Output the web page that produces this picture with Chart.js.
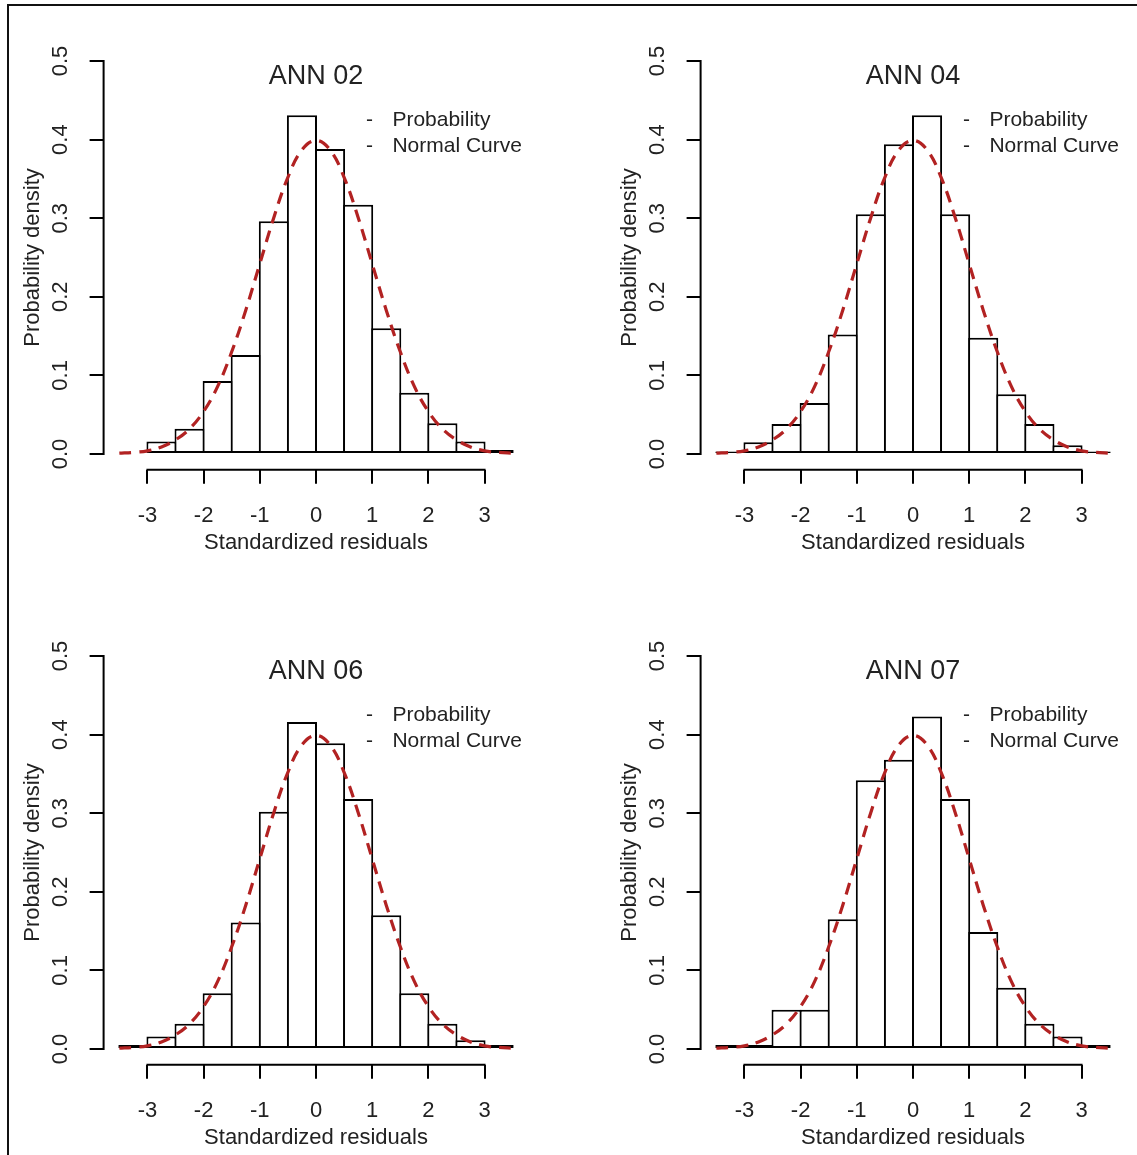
<!DOCTYPE html>
<html lang="en">
<head>
    <meta charset="UTF-8">
    <title>Standardized residuals - ANN histograms</title>
    <script src="https://cdn.jsdelivr.net/npm/chart.js"></script>
    <style>
        body {
            margin: 0;
            background: #fff;
        }
        .figure {
            position: relative;
            width: 1137px;
            height: 1155px;
            overflow: hidden;
        }
        .frame {
            position: absolute;
            left: 7px;
            top: 4px;
            width: 1140px;
            height: 1160px;
            border-left: 2px solid #111;
            border-top: 2px solid #111;
        }
        .panel {
            position: absolute;
            width: 540px;
            height: 560px;
        }
    </style>
</head>
<body>
    <div class="figure">
        <div class="frame"></div>
        <canvas id="ann02" class="panel" width="540" height="560" style="left:0;top:0"></canvas>
        <canvas id="ann04" class="panel" width="540" height="560" style="left:597px;top:0"></canvas>
        <canvas id="ann06" class="panel" width="540" height="560" style="left:0;top:595px"></canvas>
        <canvas id="ann07" class="panel" width="540" height="560" style="left:597px;top:595px"></canvas>
    </div>

    <script>
        // histogram bins (midpoints, width 0.5) and densities
        const binMids = [-3.25, -2.75, -2.25, -1.75, -1.25, -0.75, -0.25, 0.25, 0.75, 1.25, 1.75, 2.25, 2.75, 3.25];
        const ann02 = [0, 0.016, 0.032, 0.093, 0.126, 0.296, 0.431, 0.388, 0.317, 0.160, 0.078, 0.039, 0.016, 0.005];
        const ann04 = [0.003, 0.015, 0.038, 0.065, 0.152, 0.305, 0.394, 0.431, 0.305, 0.148, 0.076, 0.038, 0.011, 0.003];
        const ann06 = [0.005, 0.016, 0.032, 0.071, 0.161, 0.302, 0.416, 0.389, 0.318, 0.170, 0.071, 0.032, 0.011, 0.005];
        const ann07 = [0.005, 0.005, 0.050, 0.050, 0.165, 0.342, 0.368, 0.423, 0.318, 0.149, 0.078, 0.032, 0.016, 0.005];

        // normal curve as drawn (same in all four panels)
        const curveX = [-3.5, -3.25, -3, -2.75, -2.5, -2.25, -2, -1.75, -1.5, -1.25, -1, -0.75, -0.5, -0.25, 0,
                        0.25, 0.5, 0.75, 1, 1.25, 1.5, 1.75, 2, 2.25, 2.5, 2.75, 3, 3.25, 3.5];
        const curveY = [0.001, 0.002, 0.004, 0.009, 0.018, 0.032, 0.054, 0.086, 0.130, 0.183, 0.242, 0.301, 0.352, 0.387, 0.399,
                        0.387, 0.352, 0.301, 0.242, 0.183, 0.130, 0.086, 0.054, 0.032, 0.018, 0.009, 0.004, 0.002, 0.001];

        const xTicks = [-3, -2, -1, 0, 1, 2, 3];
        const yTicks = [0, 0.1, 0.2, 0.3, 0.4, 0.5];
        const panelIds = ['ann02', 'ann04', 'ann06', 'ann07'];
        const panelTitles = ['ANN 02', 'ANN 04', 'ANN 06', 'ANN 07'];
        const panelData = [ann02, ann04, ann06, ann07];
        const legendLabels = ['Probability', 'Normal Curve'];

        const textColor = '#222';
        const fontFamily = "'Liberation Sans', Arial, sans-serif";
        Chart.defaults.font.family = fontFamily;
        Chart.defaults.color = textColor;

        // R-style axes: line only spans the tick range
        const rAxes = {
            id: 'rAxes',
            afterDraw(chart) {
                const {ctx, chartArea, scales} = chart;
                ctx.save();
                ctx.strokeStyle = '#000';
                ctx.lineWidth = 2;
                ctx.beginPath();
                ctx.moveTo(scales.x.getPixelForValue(xTicks[0]) - 1, chartArea.bottom);
                ctx.lineTo(scales.x.getPixelForValue(xTicks[xTicks.length - 1]) + 1, chartArea.bottom);
                ctx.moveTo(chartArea.left, scales.y.getPixelForValue(yTicks[0]) + 1);
                ctx.lineTo(chartArea.left, scales.y.getPixelForValue(yTicks[yTicks.length - 1]) - 1);
                ctx.stroke();
                ctx.restore();
            }
        };

        // small legend in the top right of the plot region
        const dashLegend = {
            id: 'dashLegend',
            afterDraw(chart) {
                const {ctx, chartArea} = chart;
                ctx.save();
                ctx.fillStyle = textColor;
                ctx.font = '21px ' + fontFamily;
                ctx.textBaseline = 'middle';
                legendLabels.forEach((label, i) => {
                    const y = chartArea.top + 75 + i * 26;
                    ctx.textAlign = 'center';
                    ctx.fillText('-', chartArea.right - 159, y);
                    ctx.textAlign = 'left';
                    ctx.fillText(label, chartArea.right - 136, y);
                });
                ctx.restore();
            }
        };

        function makePanel(id, title, values) {
            const ctx = document.getElementById(id).getContext('2d');
            return new Chart(ctx, {
                data: {
                    datasets: [{
                        type: 'line',
                        label: 'Normal Curve',
                        data: curveX.map((x, i) => ({x: x, y: curveY[i]})),
                        borderColor: '#b22222',
                        borderWidth: 3.2,
                        borderDash: [12, 8],
                        pointRadius: 0,
                        tension: 0.4,
                        fill: false,
                        order: 0
                    }, {
                        type: 'bar',
                        label: 'Probability',
                        data: binMids.map((x, i) => ({x: x, y: values[i]})),
                        backgroundColor: '#fff',
                        borderColor: '#000',
                        borderWidth: 2,
                        borderSkipped: false,
                        categoryPercentage: 1,
                        barPercentage: 1.071,
                        order: 1
                    }]
                },
                options: {
                    responsive: false,
                    animation: false,
                    layout: {padding: {left: 0, right: 11.6, top: 0, bottom: 0}},
                    plugins: {
                        legend: {display: false},
                        tooltip: {enabled: false},
                        title: {
                            display: true,
                            text: title,
                            fullSize: false,
                            color: textColor,
                            font: {size: 27, weight: 'normal'},
                            padding: {top: 60.5, bottom: -47.6}
                        }
                    },
                    scales: {
                        x: {
                            type: 'linear',
                            min: -3.78,
                            max: 3.78,
                            offset: false,
                            afterBuildTicks: s => { s.ticks = xTicks.map(v => ({value: v})); },
                            afterFit: s => { s.height = 90.3; },
                            border: {display: false},
                            grid: {drawOnChartArea: false, drawTicks: true, tickLength: 14, color: '#000', lineWidth: 2, offset: false},
                            ticks: {padding: 19, font: {size: 22}, autoSkip: false, maxRotation: 0, callback: v => String(v)},
                            title: {display: true, text: 'Standardized residuals', font: {size: 22}, padding: {top: 0, bottom: 3.5}}
                        },
                        y: {
                            type: 'linear',
                            min: -0.02,
                            max: 0.52,
                            afterBuildTicks: s => { s.ticks = yTicks.map(v => ({value: v})); },
                            afterFit: s => { s.width = 103.6; },
                            border: {display: false},
                            grid: {drawOnChartArea: false, drawTicks: true, tickLength: 14, color: '#000', lineWidth: 2},
                            ticks: {minRotation: 90, maxRotation: 90, crossAlign: 'center', padding: 13, font: {size: 22}, callback: v => v.toFixed(1)},
                            title: {display: true, text: 'Probability density', font: {size: 22}, padding: {top: 20, bottom: 0}}
                        }
                    }
                },
                plugins: [rAxes, dashLegend]
            });
        }

        panelIds.forEach((id, i) => makePanel(id, panelTitles[i], panelData[i]));
    </script>
</body>
</html>
